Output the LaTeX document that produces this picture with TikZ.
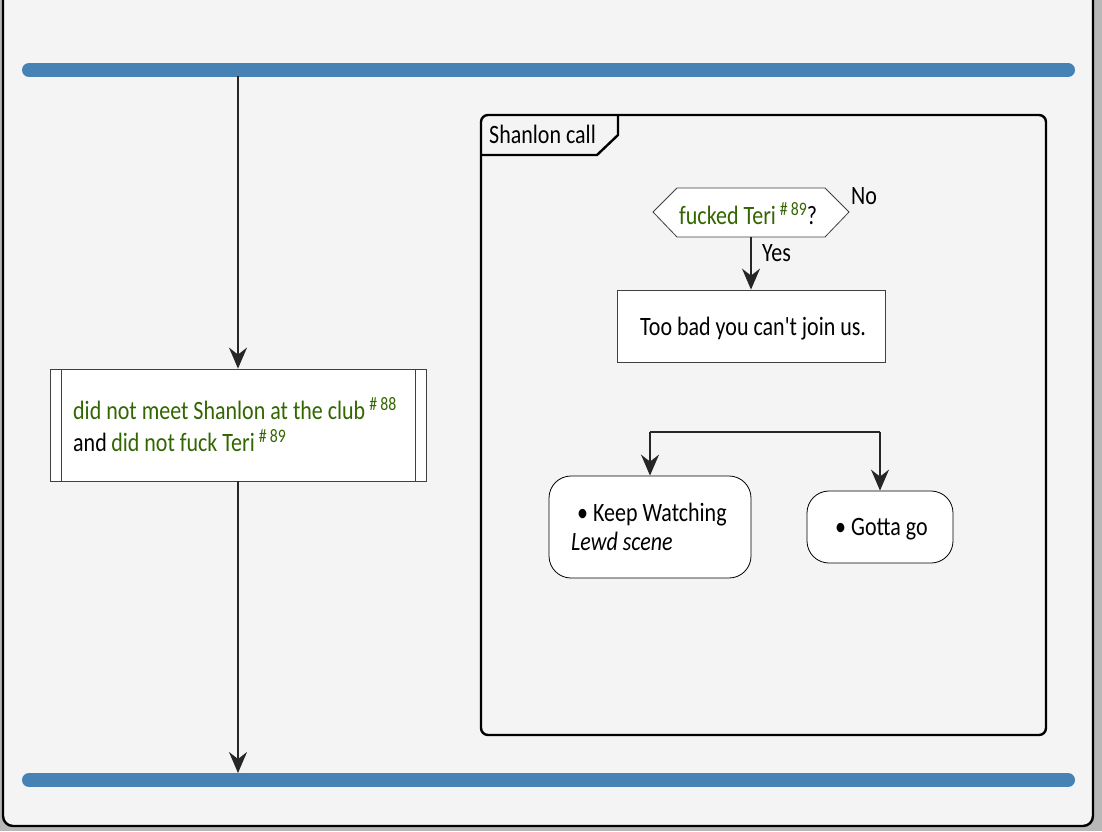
\documentclass[tikz,border=0pt]{standalone}
\usepackage{fontspec}
\setmainfont{Carlito}[Ligatures=TeXOff,FakeStretch=0.83]
\usetikzlibrary{arrows.meta,shapes.geometric}
\definecolor{bg}{HTML}{F4F4F4}
\definecolor{outside}{HTML}{B8B8B8}
\definecolor{barblue}{HTML}{4682B4}
\definecolor{vargreen}{HTML}{336600}
\tikzset{
  x=1pt,y=-1pt,
  flow/.style={draw=black!85,line width=1.8pt,-{Stealth[length=21pt,width=18pt,inset=7pt]}},
  bar/.style={draw=barblue,line width=14pt,line cap=round},
  actbox/.style={draw=black!75,fill=white,line width=0.8pt},
  roundbox/.style={draw=black,fill=white,line width=0.8pt,rounded corners=22pt},
  txt/.style={font=\fontsize{26.5}{30}\selectfont,inner sep=0pt},
  lbl/.style={font=\fontsize{26.5}{30}\selectfont,inner sep=0pt,anchor=base west},
}
\newcommand{\vg}[1]{\textcolor{vargreen}{#1}}
\newcommand{\refno}[1]{\hspace{4pt}\raisebox{9pt}{\fontsize{19}{19}\selectfont\#\,#1}}
\begin{document}
\begin{tikzpicture}
\useasboundingbox (0,0) rectangle (1102,831);
\fill[outside] (0,0) rectangle (1102,831);
% outer frame
\draw[fill=bg,line width=2.4pt,rounded corners=10pt] (3,-20) rectangle (1093,826);
% bars
\draw[bar] (29,70) coordinate (t1) -- (1068,70) coordinate (t2);
\draw[bar] (29,780) coordinate (b1) -- (1068,780) coordinate (b2);
\coordinate (tA) at (238,76);
\coordinate (bA) at (238,773);
% left activity box
\node[actbox,minimum width=376pt,minimum height=112pt] (cond) at (238,425) {};
\draw[black!75,line width=0.8pt] (61,369) -- (61,481) (415,369) -- (415,481);
\node[lbl] at (73,419) {\vg{did not meet Shanlon at the club\refno{88}}};
\node[lbl] at (73,451) {and\,\vg{did not fuck Teri\refno{89}}};
\draw[flow] (tA) -- (cond.north);
\draw[flow] (cond.south) -- (bA);
% group
\draw[line width=2.4pt,rounded corners=7pt] (481,115) rectangle (1046,735);
\draw[line width=2.4pt] (481,155) -- (597,155) -- (618,135) -- (618,116);
\node[lbl] at (489,143) {Shanlon call};
% hexagon decision
\draw[actbox] (653,212) -- (677,188) -- (825,188) -- (849,212) -- (825,237) -- (677,237) -- cycle;
\coordinate (hexS) at (751,237);
\node[lbl] at (679,224) {\vg{fucked Teri\refno{89}}?};
\node[lbl] at (851,204) {No};
\node[lbl] at (762,261) {Yes};
% too bad box
\node[actbox,minimum width=268pt,minimum height=72pt] (toobad) at (751,326) {};
\node[lbl] at (640,335) {Too bad you can't join us.};
\draw[flow] (hexS) -- (toobad.north);
% fork
\draw[black!85,line width=2.4pt] (650,432) coordinate (f1) -- (880,432) coordinate (f2);
\node[roundbox,minimum width=202pt,minimum height=102pt] (keep) at (650,527) {};
\node[roundbox,minimum width=146pt,minimum height=72pt] (gotta) at (880,527) {};
\node[lbl] at (577,521) {\textbullet\ Keep Watching};
\node[lbl] at (571,550) {\itshape Lewd scene};
\node[lbl] at (835,535) {\textbullet\ Gotta go};
\draw[flow] (f1) -- (keep.north);
\draw[flow] (f2) -- (gotta.north);
\end{tikzpicture}
\end{document}
